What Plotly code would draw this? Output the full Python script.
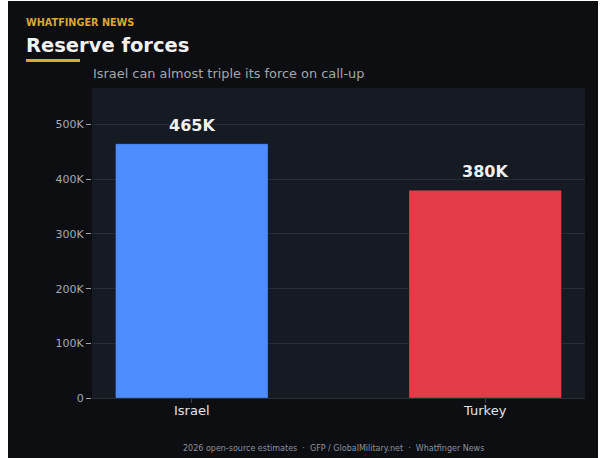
import plotly.graph_objects as go

countries = ["Israel", "Turkey"]
reserves = [465000, 380000]
bar_labels = ["465K", "380K"]
bar_colors = ["#4d8dff", "#e33b48"]
y_ticks = [0, 100000, 200000, 300000, 400000, 500000]
y_tick_text = ["0", "100K", "200K", "300K", "400K", "500K"]

W, H = 595, 457
L, R, T, B = 84, 18, 87, 60

fig = go.Figure(go.Bar(
    x=countries,
    y=reserves,
    marker=dict(color=bar_colors, line=dict(color="rgba(0,0,0,0.25)", width=1)),
    width=0.52,
    hoverinfo="skip",
))

# value labels above the bars
for c, v, lab in zip(countries, reserves, bar_labels):
    fig.add_annotation(
        x=c, y=v, text="<b>%s</b>" % lab, showarrow=False,
        yanchor="bottom", yshift=7,
        font=dict(size=16, color="#f2f2f2"),
    )

fig.update_layout(
    width=W,
    height=H,
    margin=dict(l=L, r=R, t=T, b=B),
    paper_bgcolor="#0d0e12",
    plot_bgcolor="#161a22",
    font=dict(family="DejaVu Sans", color="#a0a4ac"),
    showlegend=False,
    xaxis=dict(
        range=[-0.34, 1.34],
        tickfont=dict(size=13, color="#e2e4e8"),
        ticks="outside", ticklen=4, tickcolor="#3a3f4a",
        ticklabelstandoff=-4,
        showgrid=False, showline=True, linecolor="#2a2f3a",
    ),
    yaxis=dict(
        range=[0, 567000],
        tickvals=y_ticks, ticktext=y_tick_text,
        tickfont=dict(size=11, color="#a6aab2"),
        ticks="outside", ticklen=5, tickcolor="#a0a4ac",
        gridcolor="#272c37", gridwidth=1, zeroline=False,
    ),
)

pw = W - L - R
ph = H - T - B


def px_x(v):
    return (v - L) / pw


def px_y(v):
    return 1 + (T - v) / ph


# header texts, positions in figure pixels
headers = [
    ("<b>WHATFINGER NEWS</b>", 16, 21, 9.7, "#d9a931"),
    ("<b>Reserve forces</b>", 16, 44, 19.5, "#f2f2f2"),
    ("Israel can almost triple its force on call-up", 83, 72, 12.9, "#a3a7ae"),
]
for text, xp, yp, size, color in headers:
    fig.add_annotation(
        text=text, showarrow=False, xanchor="left", yanchor="middle",
        xref="paper", yref="paper", x=px_x(xp), y=px_y(yp),
        font=dict(size=size, color=color),
    )

fig.add_annotation(
    text="2026 open-source estimates  ·  GFP / GlobalMilitary.net  ·  Whatfinger News",
    showarrow=False, xref="paper", yref="paper", x=0.49, y=px_y(447),
    xanchor="center", yanchor="middle", font=dict(size=8, color="#8c929b"),
)
fig.add_shape(type="rect", xref="paper", yref="paper",
              x0=px_x(18), x1=px_x(72), y0=px_y(58), y1=px_y(61),
              fillcolor="#d9a931", line_width=0)

# page sits 1px from the top like the reference
fig.write_html("out.html", post_script="document.body.style.marginTop='1px';")
